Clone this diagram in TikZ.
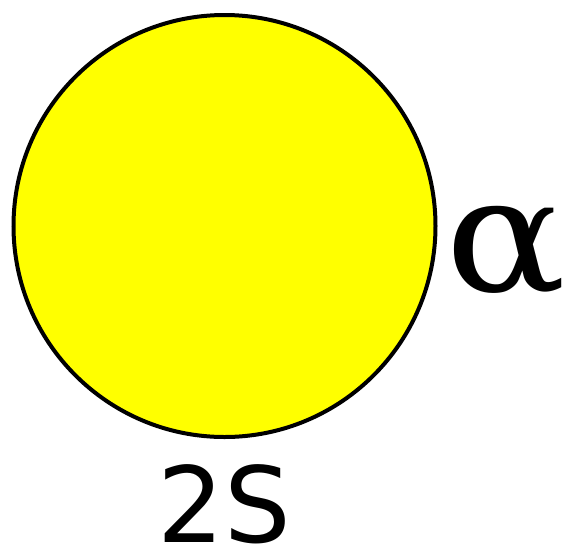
\documentclass[tikz,border=0pt]{standalone}
\usepackage{fontspec}
\setmainfont{DejaVu Sans}
\newfontfamily\alphafont{DejaVu Serif}
\definecolor{ballyellow}{RGB}{255,255,0}
\begin{document}
\begin{tikzpicture}[x=1pt,y=-1pt,
  ball/.style={circle,draw=black,line width=4pt,fill=ballyellow,minimum size=422pt,inner sep=0pt},
  lbl/.style={anchor=base,inner sep=0pt}]
\useasboundingbox (0,0) rectangle (565,550);
\node[ball] (c) at (224.5,226) {};
\node[lbl,font=\alphafont\fontsize{160}{160}\selectfont] (a) at (506,291) {\scalebox{1.12}[1]{α}};
\node[lbl,font=\fontsize{105}{105}\selectfont] (s) at (224.5,542) {2S};
\end{tikzpicture}
\end{document}
